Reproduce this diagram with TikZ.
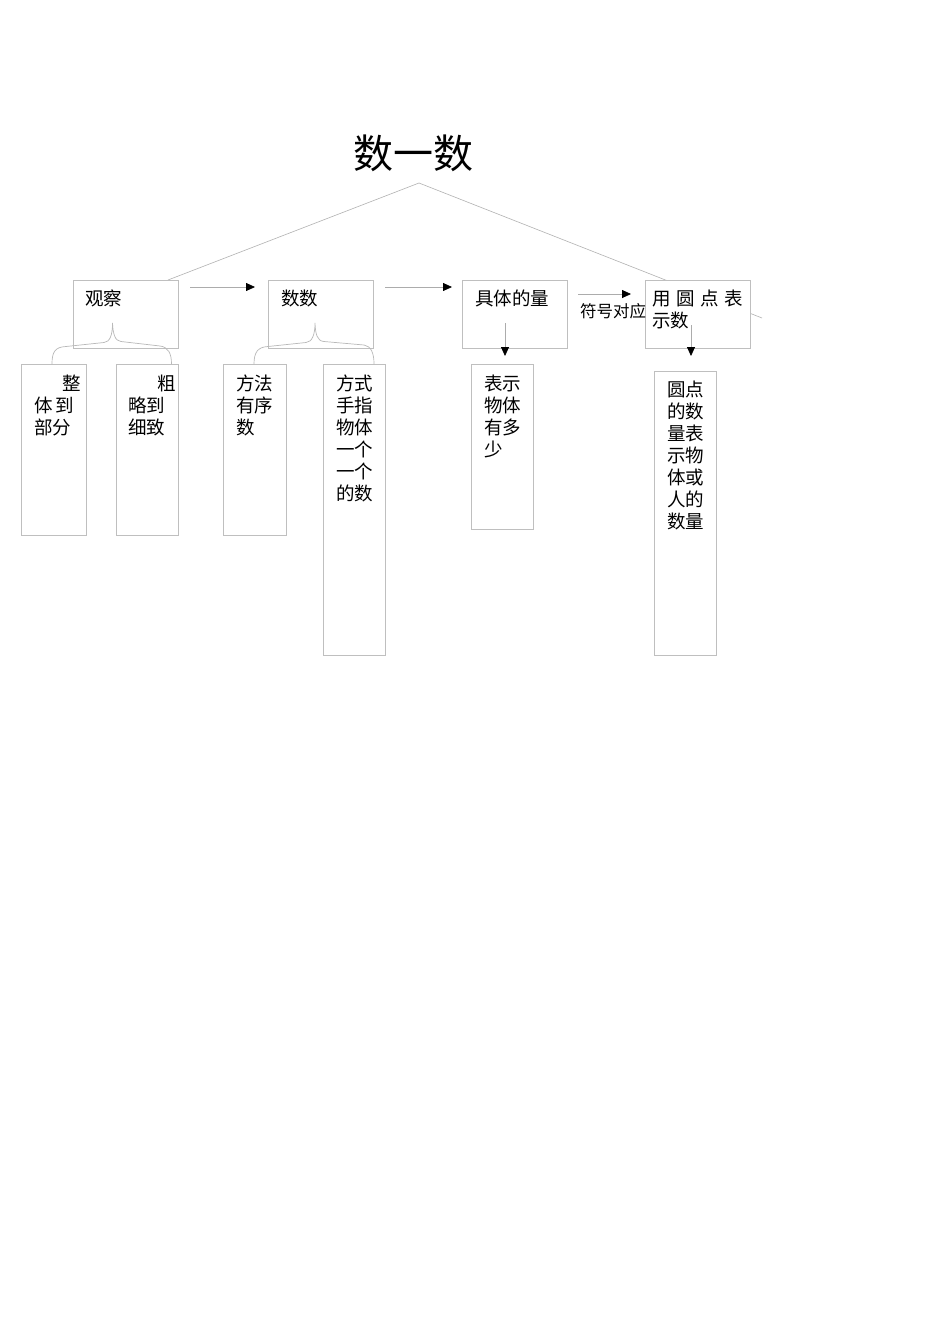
\documentclass[tikz,border=0pt]{standalone}
\usepackage{fontspec}
\newfontfamily\cjk{Noto Sans CJK SC}
\usetikzlibrary{arrows.meta}
\begin{document}
\begin{tikzpicture}[x=1pt,y=-1pt,
 box/.style={draw=gray!50,line width=0.8pt,fill=white,inner sep=0pt,outer sep=0pt},
 txt/.style={font=\cjk\fontsize{18.5}{22}\selectfont,inner sep=0pt,anchor=north west,align=left},
 link/.style={draw=gray!60,line width=0.6pt},
 arr/.style={draw=gray!65,line width=0.8pt,-{Triangle[length=9pt,width=8pt,color=black,fill=black]}},
 brace/.style={draw=gray!55,line width=0.7pt}]
\path[use as bounding box,fill=white] (0,0) rectangle (950,1344);
% title
\node[font=\cjk\fontsize{40}{44}\selectfont,inner sep=0pt] (title) at (413,153) {数一数};
\coordinate (apex) at (419,183);
\coordinate (lend) at (168,280);
\coordinate (rend) at (762,318);
\draw[link] (apex) -- (lend);
\draw[link] (apex) -- (rend);
% top boxes
\node[box,minimum width=105pt,minimum height=68pt] (obs) at (125.5,314) {};
\node[box,minimum width=105pt,minimum height=68pt] (cnt) at (320.5,314) {};
\node[box,minimum width=105pt,minimum height=68pt] (qty) at (514.5,314) {};
\node[box,minimum width=105pt,minimum height=68pt] (dot) at (697.5,314) {};
\node[txt] (tobs) at (85,290) {观察};
\node[txt] (tcnt) at (281,290) {数数};
\node[txt] (tqty) at (475,290) {具体的量};
\node[txt] (tdot) at (652,290) {用\hspace{5.5pt}圆\hspace{5.5pt}点\hspace{5.5pt}表\\示数};
% sub boxes
\node[box,minimum width=65pt,minimum height=171pt] (s1) at (53.5,449.5) {};
\node[box,minimum width=62pt,minimum height=171pt] (s2) at (147,449.5) {};
\node[box,minimum width=63pt,minimum height=171pt] (s3) at (254.5,449.5) {};
\node[box,minimum width=62pt,minimum height=291pt] (s4) at (354,509.5) {};
\node[box,minimum width=62pt,minimum height=165pt] (s5) at (502,446.5) {};
\node[box,minimum width=62pt,minimum height=284pt] (s6) at (685,513) {};
\node[txt] (ts1) at (34,374.5) {\hspace*{28pt}整\\体\hspace{2.5pt}到\\部分};
\node[txt] (ts2) at (128,374.5) {\hspace*{29pt}粗\\略到\\细致};
\node[txt] (ts3) at (236,374.5) {方法\\有序\\数};
\node[txt] (ts4) at (336,374.5) {方式\\手指\\物体\\一个\\一个\\的数};
\node[txt] (ts5) at (484,374.5) {表示\\物体\\有多\\少};
\node[txt] (ts6) at (667,380.5) {圆点\\的数\\量表\\示物\\体或\\人的\\数量};
% horizontal arrows
\draw[arr] ([shift={(12,7)}]obs.north east) -- ([shift={(-13,7)}]cnt.north west);
\draw[arr] ([shift={(12,7)}]cnt.north east) -- ([shift={(-10,7)}]qty.north west);
\draw[arr] ([shift={(11,14)}]qty.north east) -- ([shift={(-14,14)}]dot.north west);
\node[font=\cjk\fontsize{16.5}{18}\selectfont,inner sep=0pt,anchor=north west] (sym) at (580,303) {符号对应};
% vertical arrows
\draw[arr] ([shift={(-9.5,-25)}]qty.south) -- ([shift={(-9.5,8)}]qty.south);
\draw[arr] ([shift={(-6.5,-23)}]dot.south) -- ([shift={(-6.5,8)}]dot.south);
% braces
\draw[brace] (s1.north west) ++(31,0) coordinate (b1l)
  .. controls (52,352) and (55,347) .. (66,346.5)
  -- (104,342.5) .. controls (110,342) and (112.5,335) .. (112.5,323)
  .. controls (113,334) and (115,341) .. (121,341.5)
  -- (160,346) .. controls (168,347) and (171.5,353) .. (171.5,364);
\draw[brace] (254,364)
  .. controls (254,352) and (258,347) .. (268,346.5)
  -- (306,342.5) .. controls (312,342) and (315,335) .. (315,323)
  .. controls (315.5,334) and (317,341) .. (324,341.5)
  -- (364,345) .. controls (371,346) and (374,353) .. (374,364);
\end{tikzpicture}
\end{document}
